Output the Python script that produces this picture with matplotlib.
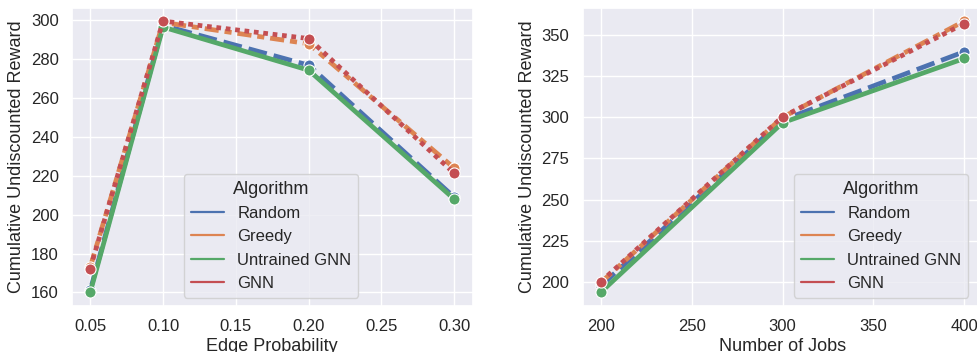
import matplotlib
matplotlib.use("Agg")
import matplotlib.pyplot as plt
import seaborn as sns
from matplotlib.lines import Line2D

sns.set_theme(style="darkgrid")
plt.rcParams['font.family'] = ['Liberation Sans', 'DejaVu Sans']

algorithms = ["Random", "Greedy", "Untrained GNN", "GNN"]
colors = ["#4c72b0", "#dd8452", "#55a868", "#c44e52"]
dashes = [(4, 1.5), (3, 1.25, 1.5, 1.25), (None, None), (1, 1)]

edge_prob = [0.05, 0.10, 0.20, 0.30]
edge_rewards = {
    "Random": [161, 297.5, 277, 209],
    "Greedy": [173, 299, 288, 224],
    "Untrained GNN": [160, 296.6, 274.4, 208],
    "GNN": [172.3, 299.7, 290.7, 221.3],
}

num_jobs = [200, 300, 400]
job_rewards = {
    "Random": [197.5, 298.3, 339.9],
    "Greedy": [199.5, 300.0, 358.5],
    "Untrained GNN": [193.6, 296.7, 335.8],
    "GNN": [200.0, 300.3, 357.0],
}

fig = plt.figure(figsize=(9.77, 3.52), dpi=100)
W, H = 977, 352
ax1 = fig.add_axes([72 / W, 1 - 306 / H, (472.5 - 72) / W, (306 - 7.5) / H])
ax2 = fig.add_axes([582.5 / W, 1 - 306 / H, (982.5 - 582.5) / W, (306 - 7.5) / H])


def draw(ax, x, data):
    for alg, c, d in zip(algorithms, colors, dashes):
        ln, = ax.plot(x, data[alg], color=c, lw=3.4, marker='o', markersize=8,
                      markeredgecolor='white', markeredgewidth=0.8)
        if d[0] is not None:
            ln.set_dashes(d)
    handles = [Line2D([0], [0], color=c, lw=1.6) for c in colors]
    ax.legend(handles, algorithms, title="Algorithm", loc="lower right",
              fontsize=12, title_fontsize=13, borderaxespad=0.5)
    ax.tick_params(labelsize=12)


draw(ax1, edge_prob, edge_rewards)
ax1.set_xlabel("Edge Probability", fontsize=13, labelpad=3)
ax1.set_ylabel("Cumulative Undiscounted Reward", fontsize=13)
ax1.set_xticks([0.05, 0.10, 0.15, 0.20, 0.25, 0.30])
ax1.set_xticklabels(["0.05", "0.10", "0.15", "0.20", "0.25", "0.30"])
ax1.set_yticks([160, 180, 200, 220, 240, 260, 280, 300])
ax1.legend_.set_bbox_to_anchor((0.735, 0.0))

draw(ax2, num_jobs, job_rewards)
ax2.set_xlabel("Number of Jobs", fontsize=13, labelpad=3)
ax2.set_ylabel("Cumulative Undiscounted Reward", fontsize=13)
ax2.set_xticks([200, 250, 300, 350, 400])
ax2.set_yticks([200, 225, 250, 275, 300, 325, 350])
ax2.legend_.set_bbox_to_anchor((0.985, 0.0))

fig.savefig("out.png", dpi=100)
